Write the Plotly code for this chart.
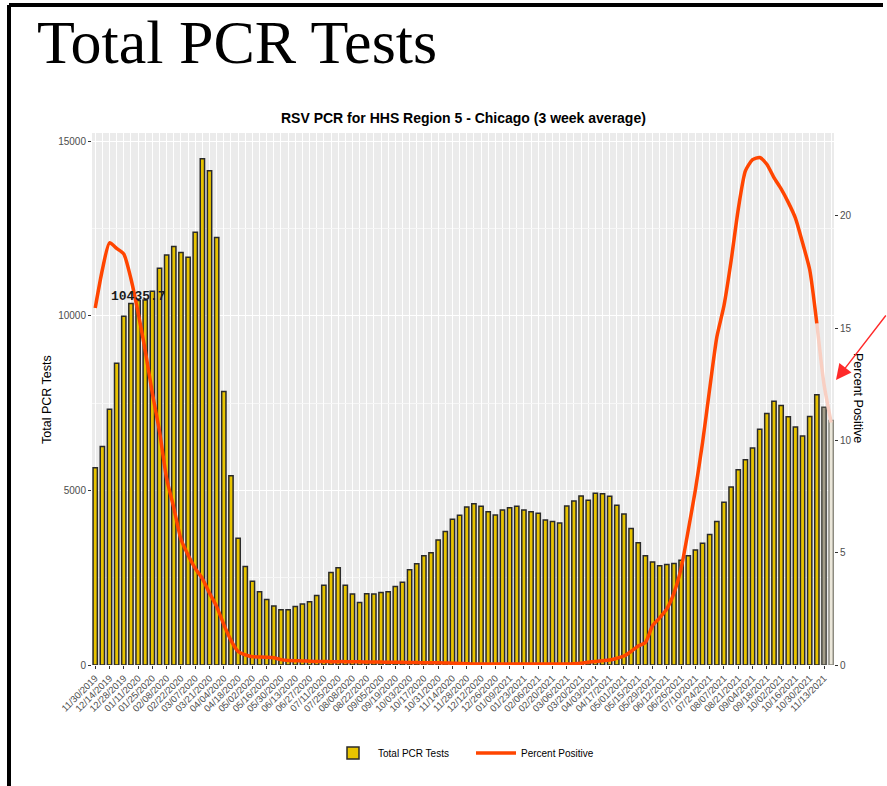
import pandas as pd
import plotly.graph_objects as go

# ---------------- data ----------------
week_start = "2019-11-30"
n_weeks = 104
week_labels = list(pd.date_range(week_start, periods=n_weeks, freq="7D").strftime("%m/%d/%Y"))

total_pcr_tests = [
    5645, 6256, 7320, 8640, 9980, 10350, 10435.7, 10450, 10700, 11360,
    11740, 11980, 11810, 11670, 12390, 14490, 14150, 12240, 7830, 5420,
    3630, 2820, 2400, 2095, 1876, 1686, 1581, 1581, 1676, 1743,
    1810, 1990, 2286, 2648, 2781, 2286, 2029, 1790, 2038, 2029,
    2076, 2095, 2248, 2371, 2724, 2895, 3124, 3210, 3581, 3819,
    4171, 4286, 4524, 4619, 4543, 4390, 4295, 4438, 4505, 4543,
    4438, 4390, 4343, 4152, 4105, 4067, 4552, 4695, 4838, 4714,
    4914, 4905, 4829, 4571, 4324, 3905, 3500, 3124, 2952, 2838,
    2876, 2905, 3000, 3124, 3295, 3486, 3733, 4105, 4657, 5095,
    5590, 5876, 6210, 6752, 7200, 7552, 7429, 7105, 6810, 6552,
    7114, 7733, 7381, 7000,
]

percent_positive = [
    15.9, 17.6, 18.8, 18.55, 18.3, 17.2, 15.7, 14.0, 12.1, 10.4,
    8.3, 7.0, 5.6, 4.9, 4.3, 3.85, 3.2, 2.6, 1.8, 1.1,
    0.6, 0.45, 0.37, 0.36, 0.35, 0.32, 0.24, 0.2, 0.19, 0.18,
    0.17, 0.16, 0.16, 0.15, 0.15, 0.15, 0.14, 0.14, 0.13, 0.13,
    0.13, 0.12, 0.12, 0.12, 0.11, 0.11, 0.1, 0.1, 0.1, 0.09,
    0.08, 0.07, 0.06, 0.05, 0.05, 0.05, 0.05, 0.05, 0.05, 0.05,
    0.05, 0.05, 0.05, 0.05, 0.05, 0.05, 0.05, 0.06, 0.08, 0.12,
    0.16, 0.19, 0.22, 0.3, 0.4, 0.6, 0.85, 1.0, 1.75, 2.1,
    2.5, 3.2, 4.3, 6.0, 7.8, 9.9, 12.3, 14.6, 16.0, 18.0,
    20.3, 22.0, 22.5, 22.6, 22.3, 21.7, 21.2, 20.6, 19.9, 18.8,
    17.6, 15.2, 12.5, 10.8,
]

left_ticks = [0, 5000, 10000, 15000]
right_ticks = [0, 5, 10, 15, 20]
highlight_label = "10435.7"
chart_title = "RSV PCR for HHS Region 5 - Chicago (3 week average)"
page_heading = "Total PCR Tests"

# ---------------- layout helpers ----------------
W, H = 887, 786
L, R, T, B = 92, 834, 133, 665          # plot panel in pixels
faded_from = 102                          # last weeks washed out in the screenshot

def px(xp):
    return (xp - L) / (R - L)

def py(yp):
    return (B - yp) / (B - T)

x = list(range(n_weeks))

bar_fill = ["#e8c400"] * n_weeks
bar_line = ["#2a2a2a"] * n_weeks
bar_fill[faded_from] = "#a39d89"
bar_line[faded_from] = "#4a4a44"
bar_fill[faded_from + 1] = "#ebe7da"
bar_line[faded_from + 1] = "#8c8a80"

fig = go.Figure()
fig.add_trace(go.Bar(
    x=x, y=total_pcr_tests, name="Total PCR Tests",
    width=0.6,
    marker=dict(color=bar_fill, line=dict(color=bar_line, width=1.5)),
    yaxis="y",
))
solid_end = faded_from
fig.add_trace(go.Scatter(
    x=x[:solid_end], y=percent_positive[:solid_end], name="Percent Positive",
    mode="lines", line=dict(color="#ff4500", width=3.5, shape="spline", smoothing=0.6),
    yaxis="y2",
))
fig.add_trace(go.Scatter(
    x=x[solid_end - 1:], y=percent_positive[solid_end - 1:], showlegend=False,
    mode="lines", line=dict(color="#f8cfc2", width=3.5, shape="spline", smoothing=0.6),
    yaxis="y2",
))

sans = "Liberation Sans, Arial, sans-serif"
tick_font = dict(family=sans, size=9.5, color="#4d4d4d")

fig.update_layout(
    width=W, height=H,
    margin=dict(l=L, r=W - R, t=T, b=H - B, pad=0, autoexpand=False),
    paper_bgcolor="white",
    plot_bgcolor="#ebebeb",
    font=dict(family=sans, color="#000"),
    showlegend=True,
    legend=dict(
        orientation="h", x=px(328), xanchor="left", y=py(753), yanchor="middle",
        font=dict(size=10, color="#000"),
        entrywidth=88, entrywidthmode="pixels", itemwidth=40,
        bgcolor="rgba(0,0,0,0)",
    ),
    xaxis=dict(
        automargin=False,
        range=[-0.45, n_weeks - 0.6],
        tickmode="array",
        tickvals=x[::2],
        ticktext=week_labels[::2],
        tickangle=-45,
        tickfont=tick_font,
        ticks="outside", ticklen=3, tickcolor="#333", tickwidth=1,
        showgrid=True, gridcolor="white", gridwidth=1,
        minor=dict(tickmode="array", tickvals=x, showgrid=True, gridcolor="white", gridwidth=1, ticks=""),
        zeroline=False, showline=False,
    ),
    yaxis=dict(
        automargin=False,
        range=[0, 15229],
        tickmode="array",
        tickvals=left_ticks,
        ticktext=[str(v) for v in left_ticks],
        tickfont=dict(family=sans, size=10, color="#4d4d4d"),
        ticks="outside", ticklen=3, tickcolor="#333",
        showgrid=True, gridcolor="white", gridwidth=1.2,
        minor=dict(dtick=2500, tick0=0, showgrid=True, gridcolor="#f7f7f7", gridwidth=0.6, ticks=""),
        zeroline=False, showline=False,
    ),
    yaxis2=dict(
        automargin=False,
        overlaying="y", side="right",
        range=[0, 23.69],
        tickmode="array",
        tickvals=right_ticks,
        ticktext=[str(v) for v in right_ticks],
        tickfont=dict(family=sans, size=10, color="#4d4d4d"),
        ticks="outside", ticklen=3, tickcolor="#333",
        showgrid=False, zeroline=False, showline=False,
    ),
)

annotations = [
    dict(text="<b>" + chart_title + "</b>", xref="paper", yref="paper", x=px(463), y=py(118),
         xanchor="center", yanchor="middle", showarrow=False,
         font=dict(family=sans, size=14, color="#000")),
    dict(text=page_heading, xref="paper", yref="paper", x=px(35), y=py(6),
         xanchor="left", yanchor="top", showarrow=False,
         font=dict(family="Liberation Serif, Times New Roman, serif", size=62, color="#000")),
    dict(text="Total PCR Tests", xref="paper", yref="paper", x=px(47), y=py(400),
         xanchor="center", yanchor="middle", showarrow=False, textangle=-90,
         font=dict(family=sans, size=12.5, color="#000")),
    dict(text="Percent Positive", xref="paper", yref="paper", x=px(858), y=py(398),
         xanchor="center", yanchor="middle", showarrow=False, textangle=90,
         font=dict(family=sans, size=12.5, color="#000")),
    dict(text="<b>" + highlight_label + "</b>", xref="x", yref="y", x=6, y=float(highlight_label),
         xanchor="center", yanchor="middle", showarrow=False, yshift=4,
         font=dict(family="Liberation Mono, DejaVu Sans Mono, monospace", size=13, color="#1a1a1a")),
    dict(text="", xref="paper", yref="paper", x=px(836), y=py(380),
         showarrow=True, axref="pixel", ayref="pixel", ax=62, ay=-66,
         arrowhead=2, arrowsize=2.2, arrowwidth=1.4, arrowcolor="#ff2a2a"),
]
fig.update_layout(annotations=annotations)

# screenshot frame
frame = dict(type="line", xref="paper", yref="paper", line=dict(color="#000", width=4), layer="above")
fig.update_layout(shapes=[
    dict(frame, x0=px(9), x1=px(9), y0=py(5), y1=py(790)),
    dict(frame, x0=px(9), x1=px(883), y0=py(5), y1=py(5)),
])

fig.write_html(
    "out.html",
    config={"displayModeBar": False},
    post_script="document.body.style.margin='0';document.body.style.overflow='hidden';",
)
